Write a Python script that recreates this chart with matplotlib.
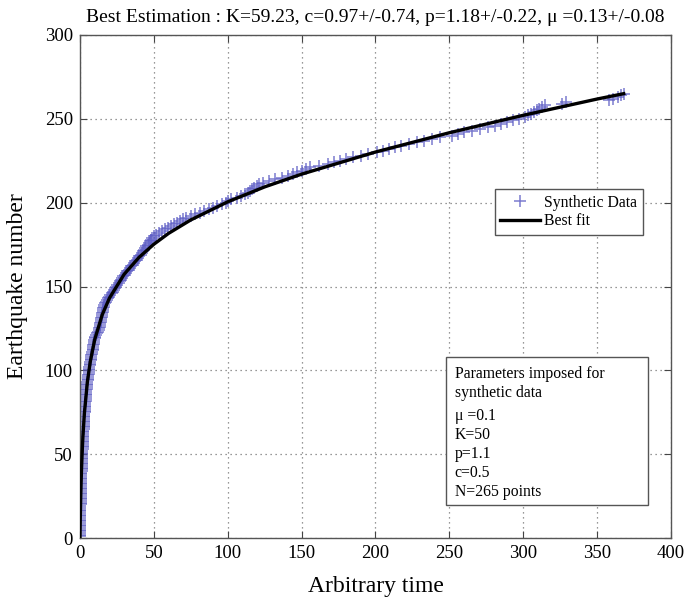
import matplotlib
matplotlib.use("Agg")
import matplotlib.pyplot as plt
import numpy as np
from matplotlib.patches import Rectangle

# ---- data ----
event_times = [
    0.01, 0.03, 0.05, 0.07, 0.09, 0.1, 0.12, 0.14, 0.16, 0.18,
    0.2, 0.21, 0.23, 0.25, 0.27, 0.29, 0.31, 0.33, 0.35, 0.38,
    0.4, 0.43, 0.46, 0.49, 0.52, 0.55, 0.58, 0.61, 0.64, 0.67,
    0.7, 0.73, 0.77, 0.81, 0.85, 0.89, 0.93, 0.97, 1.02, 1.08,
    1.13, 1.18, 1.23, 1.28, 1.33, 1.38, 1.43, 1.48, 1.53, 1.58,
    1.63, 1.68, 1.73, 1.78, 1.83, 1.88, 1.93, 1.98, 2.05, 2.1, 2.15,
    2.2, 2.27, 2.34, 2.41, 2.48, 2.55, 2.62, 2.69, 2.76, 2.83, 2.9, 2.97, 3.05, 3.12,
    3.2, 3.3, 3.4, 3.5, 3.6, 3.7, 3.8, 3.9, 4.0, 4.1, 4.2, 4.3, 4.4, 4.5, 4.6, 4.7, 4.8, 4.9,
    5.1, 5.3, 5.4, 5.6, 5.8, 5.9, 6.0, 6.2, 6.4, 6.6, 6.8, 7.0,
    7.2, 7.4, 7.6, 7.8, 8.0, 8.3, 8.5, 8.7, 8.9, 9.1, 9.3, 9.5, 9.7,
    9.9, 10.3, 10.8, 11.5, 12.3, 13.0,
    13.2, 13.4, 13.6, 13.8, 14.0, 14.2, 14.4, 14.6, 14.8, 15.0, 15.3, 15.6, 15.9, 16.2, 16.6, 17.0,
    17.5, 18.2, 19.0, 19.8, 20.6, 21.4, 22.2, 23.0, 23.8, 24.6, 25.4, 26.2, 27.0, 27.8, 28.6, 29.4, 30.3,
    31.2, 32.1, 33.0, 33.9, 34.8, 35.7, 36.6, 37.5, 38.4, 39.3,
    40.2, 41.0, 41.8, 42.6, 43.4, 44.2, 45.0, 45.8, 46.6, 47.4, 48.2, 49.0, 49.8,
    51.5, 53.5, 55.5, 57.5, 59.5, 61.5, 63.5, 65.5, 67.5, 69.5,
    72, 75, 78, 81, 84, 87, 90, 93, 96, 99,
    100.5, 102, 106, 109, 112, 113.5, 115, 116.5, 118, 119.5, 121,
    124, 128, 132, 137,
    141, 144, 147, 150, 153, 156,
    162, 168, 172, 176, 180,
    185, 190, 195,
    201, 205, 209, 213, 217,
    223, 228, 233, 238,
    244, 252, 256, 260, 265,
    271, 276, 281, 285, 289, 293, 297,
    301, 303, 305, 307, 309, 311, 313, 315,
    326, 329,
    358, 361, 364, 366, 368,
]
event_counts = np.arange(1, len(event_times) + 1)  # cumulative number

fit_t = [0, 0.1, 0.2, 0.3, 0.5, 0.75, 1, 1.5, 2, 3, 5, 7, 10, 15, 20, 30, 40,
         50, 60, 75, 100, 125, 150, 200, 250, 300, 350, 368]
fit_n = [0, 5.8, 11.0, 15.7, 23.9, 32.4, 39.8, 51.4, 60.7, 74.5, 93.0, 105.3,
         118.4, 133.0, 143.2, 157.4, 167.4, 175.2, 181.7, 189.7, 200.5, 209.4,
         217.0, 230.2, 241.7, 252.1, 261.8, 265.0]

x_ticks = [0, 50, 100, 150, 200, 250, 300, 350, 400]
y_ticks = [0, 50, 100, 150, 200, 250, 300]

title = ("Best Estimation : K=59.23, c=0.97+/-0.74, p=1.18+/-0.22, "
         "\u03bc =0.13+/-0.08")
param_head = "Parameters imposed for\nsynthetic data"
param_lines = "\u03bc =0.1\nK=50\np=1.1\nc=0.5\nN=265 points"

# ---- figure ----
plt.rcParams['font.family'] = ['Liberation Serif', 'DejaVu Serif']
fig = plt.figure(figsize=(6.87, 6.0), dpi=100)
ax = fig.add_axes([0.1164, 0.1033, 0.8603, 0.8384])

ax.plot(event_times, event_counts, linestyle='none', marker='+',
        markersize=8, markeredgewidth=1.1, color='#5c5cc4', alpha=0.8,
        label='Synthetic Data', zorder=2)
ax.plot(fit_t, fit_n, color='black', linewidth=2.4, label='Best fit', zorder=3)

ax.set_xlim(0, 400)
ax.set_ylim(0, 300)
ax.set_xticks(x_ticks)
ax.set_yticks(y_ticks)
ax.tick_params(direction='in', top=True, right=True, labelsize=13.5,
               length=5, color='#444444', pad=5)
for s in ax.spines.values():
    s.set_color('#555555')
    s.set_linewidth(1.0)
ax.grid(True, linestyle=(0, (1, 3)), color='#777777', linewidth=0.9)

ax.set_xlabel('Arbitrary time', fontsize=17, labelpad=10)
ax.set_ylabel('Earthquake number', fontsize=17, labelpad=12)
ax.set_title(title, fontsize=14, pad=9)

leg = ax.legend(loc='upper left', bbox_to_anchor=(0.702, 0.693),
                fontsize=11.3, frameon=True, fancybox=False,
                borderpad=0.35, handlelength=2.5, handletextpad=0.3,
                labelspacing=0.15, borderaxespad=0)
leg.get_frame().set_edgecolor('#555555')
leg.get_frame().set_linewidth(1.0)
leg.get_frame().set_alpha(1)

ax.add_patch(Rectangle((0.619, 0.066), 0.3415, 0.294, transform=ax.transAxes,
                       facecolor='white', edgecolor='#555555', linewidth=1.0,
                       zorder=5))
ax.text(0.634, 0.342, param_head, transform=ax.transAxes, fontsize=11.3,
        va='top', ha='left', linespacing=1.29, zorder=6)
ax.text(0.634, 0.258, param_lines, transform=ax.transAxes, fontsize=11.3,
        va='top', ha='left', linespacing=1.24, zorder=6)

fig.savefig('out.png', dpi=100)
